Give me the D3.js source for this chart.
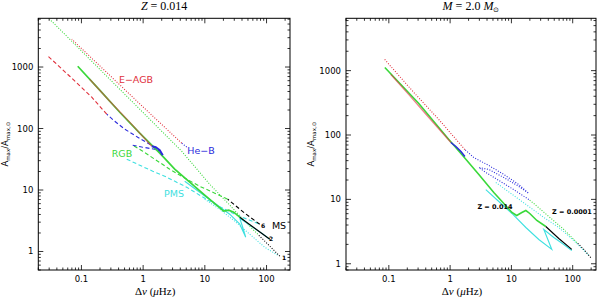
<!DOCTYPE html>
<html><head><meta charset="utf-8">
<script src="https://cdn.jsdelivr.net/npm/d3@7"></script>
<style>html,body{margin:0;padding:0;background:#fff}svg{display:block}</style>
</head><body>
<svg id="c" width="600" height="297"></svg>
<script>
// ---------- data: [Δν (μHz), Amax/Amax,sun] ----------
// Left panel: Z = 0.014, masses 1 (dotted), 2 (solid), 6 (dashed) Msun
const m6_pms  = [[0.542,31.7],[0.881,25.3],[1.43,20.2],[2.24,16.8],[3.02,14.4],[5.09,11.1],[8.26,8.23],[14.5,5.88],[30.5,4.04],[53.4,3.23],[77.6,2.78]];
const m6_ms   = [[77.6,2.78],[44.3,4.2],[23.5,7.08]];
const m6_rgb  = [[23.5,7.08],[14.5,8.87],[8.26,11.5],[4.72,15.6],[2.70,21.8],[1.54,31.7],[0.985,42.7],[0.678,53.5]];
const m6_heb  = [[0.678,53.5],[0.95,50],[1.54,46],[1.86,42.7],[1.28,55.6],[0.817,72.2],[0.504,97.5],[0.347,131],[0.257,171]];
const m6_eagb = [[0.257,171],[0.147,323],[0.0646,708],[0.0288,1500]];

const m2_pms  = [[4.72,13.9],[8.26,9.21],[14.5,6.1],[25.3,4.04],[36.8,2.78],[46.0,1.71],[41.1,2.48],[36.8,3.48],[53.4,2.68],[83.6,1.98],[113,1.58]];
const m2_ms   = [[113,1.58],[64.4,2.39],[36.8,3.61]];
const m2_rgb  = [[36.8,3.61],[29.4,4.36],[24.4,4.7],[20.2,4.53],[16.2,5.45],[9.95,8.23],[5.69,13.4],[3.25,21.8],[1.86,39.7],[0.881,83.9],[0.418,184],[0.198,420],[0.0871,1030]];
const m2_heb  = [[2.08,36.8],[1.86,44.4],[1.6,49.7],[1.38,51.5]];
const m2_eagb = [[1.38,51.5],[0.606,127],[0.288,278],[0.136,634]];

const m1_pms  = [[9.95,7.08],[17.4,4.87],[30.5,3.11],[53.4,1.91],[93.5,1.17],[152,0.87]];
const m1_ms   = [[164,0.839],[113,1.22],[72.0,1.91]];
const m1_rgb  = [[72.0,1.91],[44.3,3.11],[27.3,5.25],[12.0,12.4],[4.22,42.7],[0.881,206],[0.198,921],[0.0306,5990]];
const m1_heb  = [[5.09,50],[4.6,54],[4.22,57.7]];
const m1_eagb = [[4.22,57.7],[0.881,252],[0.198,1047],[0.0697,2830]];

// Right panel: M = 2.0 Msun, Z = 0.014 (solid), Z = 0.0001 (dotted)
const z014_pms  = [[3.82,14.2],[6.23,9.28],[10.2,6.04],[17.2,3.66],[28.0,2.38],[45.6,1.67],[39.3,2.38],[33.8,3.41],[49.2,2.56],[71.6,1.99],[96.6,1.61]];
const z014_ms   = [[96.6,1.67],[59.3,2.47],[36.4,3.79]];
const z014_rgb  = [[36.4,3.79],[26.0,4.7],[19.95,6.04],[17.2,6.72],[14.8,6.26],[12.2,5.62],[10.2,6.26],[7.52,8.63],[5.16,12.8],[2.94,24.4],[1.55,49.8],[0.952,85.1],[0.308,308],[0.086,1117]];
const z014_heb  = [[1.74,46.4],[1.50,55.4],[1.24,66.3],[1.03,76.5]];
const z014_eagb = [[1.03,76.5],[0.449,187],[0.212,425],[0.108,869]];

const z0001_pms  = [[5.57,18.3],[10.9,11.5],[19.2,7.76],[33.8,5.24],[59.3,3.66],[104,2.3],[183,1.35]];
const z0001_ms   = [[197,1.25],[152,1.67],[117,2.14]];
const z0001_rgb  = [[117,2.14],[71.6,3.41],[40.7,5.43],[23.2,8.63],[19.2,9.96]];
const z0001_heb  = [[19.2,9.96],[10.9,14.2],[6.23,19.7],[3.82,26.2],[2.94,31.3],[4.28,29.1],[7.52,21.9],[13.2,15.9],[19.2,12.4],[13.2,17.0],[7.52,24.4],[4.28,33.6],[2.44,44.7],[1.74,59.5]];
const z0001_eagb = [[1.74,59.5],[0.655,174],[0.256,457],[0.083,1542]];

const xTickLabels = ["0.1","1","10","100"];
const yTickLabels = ["1","10","100","1000"];

// ---------- drawing ----------
const COL = {pms:"#3fe0e0", ms:"#000000", rgb:"#3ad83a", heb:"#2b2bdc", eagb:"#e0303c"};
const DASH = {dotted:"1,1.6", solid:null, dashed:"4,2.5"};

const svg = d3.select("#c");

function panel(o){
  const x = d3.scaleLog().domain(o.xd).range([o.x0,o.x1]);
  const y = d3.scaleLog().domain(o.yd).range([o.y1,o.y0]);
  const g = svg.append("g");
  const line = d3.line().x(d=>x(d[0])).y(d=>y(d[1]));
  o.tracks.forEach(t=>{
    g.append("path").attr("d",line(t.data)).attr("fill","none")
      .attr("stroke",COL[t.phase]).attr("stroke-width",t.w||1.1)
      .attr("stroke-opacity",t.op||1)
      .attr("stroke-dasharray",DASH[t.style]);
  });
  g.append("rect").attr("x",o.x0).attr("y",o.y0).attr("width",o.x1-o.x0).attr("height",o.y1-o.y0)
    .attr("fill","none").attr("stroke","#000").attr("stroke-width",1);
  function minors(dom){
    const out=[]; for(let e=-3;e<5;e++){for(let k=1;k<10;k++){const v=k*Math.pow(10,e); if(v>=dom[0]*0.999&&v<=dom[1]*1.001) out.push([v,k===1]);}} return out;
  }
  minors(o.xd).forEach(([v,maj])=>{
    const L = maj?5:2.5, px=x(v);
    g.append("line").attr("x1",px).attr("x2",px).attr("y1",o.y1).attr("y2",o.y1-L).attr("stroke","#000").attr("stroke-width",0.8);
    g.append("line").attr("x1",px).attr("x2",px).attr("y1",o.y0).attr("y2",o.y0+L).attr("stroke","#000").attr("stroke-width",0.8);
  });
  minors(o.yd).forEach(([v,maj])=>{
    const L = maj?5:2.5, py=y(v);
    g.append("line").attr("x1",o.x0).attr("x2",o.x0+L).attr("y1",py).attr("y2",py).attr("stroke","#000").attr("stroke-width",0.8);
    g.append("line").attr("x1",o.x1).attr("x2",o.x1-L).attr("y1",py).attr("y2",py).attr("stroke","#000").attr("stroke-width",0.8);
  });
  const tf = "'DejaVu Sans', sans-serif";
  xTickLabels.forEach(s=>{
    g.append("text").attr("x",x(+s)).attr("y",o.y1+11.5).attr("text-anchor","middle")
      .attr("font-family",tf).attr("font-size",8.5).text(s);
  });
  yTickLabels.forEach(s=>{
    g.append("text").attr("x",o.x0-5).attr("y",y(+s)+3).attr("text-anchor","end")
      .attr("font-family",tf).attr("font-size",8.5).text(s);
  });
  const xl = g.append("text").attr("x",(o.x0+o.x1)/2-9).attr("y",295).attr("text-anchor","middle")
    .attr("font-family","'Liberation Serif', serif").attr("font-size",11);
  xl.append("tspan").text("Δ");
  xl.append("tspan").attr("font-style","italic").text("ν");
  xl.append("tspan").text(" (");
  xl.append("tspan").attr("font-style","italic").text("μ");
  xl.append("tspan").text("Hz)");
  const yl = g.append("text").attr("transform",`translate(${o.ylx},${(o.y0+o.y1)/2}) rotate(-90)`)
    .attr("text-anchor","middle").attr("font-family",tf).attr("font-size",8.5);
  yl.append("tspan").text("A");
  yl.append("tspan").attr("font-size",5.5).attr("dy",2).text("max");
  yl.append("tspan").attr("dy",-2).text("/A");
  yl.append("tspan").attr("font-size",5.5).attr("dy",2).text("max,⊙");
  const t = g.append("text").attr("x",(o.x0+o.x1)/2).attr("y",10).attr("text-anchor","middle")
    .attr("font-family","'Liberation Serif', serif").attr("font-size",12);
  o.title(t);
  o.notes.forEach(n=>{
    g.append("text").attr("x",n.x).attr("y",n.y).attr("text-anchor","middle")
      .attr("font-family",tf).attr("font-size",n.fs).attr("font-weight",n.fw||"normal")
      .attr("fill",n.c).text(n.t);
  });
  return {x,y};
}

panel({
  x0:38.3, x1:290, y0:18.3, y1:270, xd:[0.02,240], yd:[0.5,6200], ylx:8,
  tracks:[
    {data:m1_rgb,phase:"rgb",style:"dotted"},
    {data:m1_eagb,phase:"eagb",style:"dotted"},
    {data:m1_heb,phase:"heb",style:"dotted"},
    {data:m1_pms,phase:"pms",style:"dotted"},
    {data:m1_ms,phase:"ms",style:"dotted"},
    {data:m6_pms,phase:"pms",style:"dashed"},
    {data:m6_rgb,phase:"rgb",style:"dashed"},
    {data:m6_heb,phase:"heb",style:"dashed"},
    {data:m6_eagb,phase:"eagb",style:"dashed"},
    {data:m6_ms,phase:"ms",style:"dashed"},
    {data:m2_pms,phase:"pms",style:"solid"},
    {data:m2_rgb,phase:"rgb",style:"solid",w:1.7},
    {data:m2_eagb,phase:"eagb",style:"solid",w:1.3,op:0.6},
    {data:m2_heb,phase:"heb",style:"solid",w:2},
    {data:m2_ms,phase:"ms",style:"solid"}
  ],
  title:t=>{t.append("tspan").attr("font-style","italic").text("Z"); t.append("tspan").text(" = 0.014");},
  notes:[
    {x:136,y:83,t:"E−AGB",c:COL.eagb,fs:9.5},
    {x:201,y:154,t:"He−B",c:COL.heb,fs:9.5},
    {x:122,y:157,t:"RGB",c:COL.rgb,fs:9.5},
    {x:174,y:197,t:"PMS",c:COL.pms,fs:9.5},
    {x:279,y:229,t:"MS",c:"#000",fs:9.5},
    {x:263,y:228,t:"6",c:"#000",fs:6,fw:"bold"},
    {x:271,y:241,t:"2",c:"#000",fs:6,fw:"bold"},
    {x:284,y:260,t:"1",c:"#000",fs:6,fw:"bold"}
  ]
});

panel({
  x0:346, x1:596, y0:18.3, y1:270, xd:[0.02,240], yd:[0.8,6500], ylx:314,
  tracks:[
    {data:z0001_pms,phase:"pms",style:"dotted"},
    {data:z0001_rgb,phase:"rgb",style:"dotted"},
    {data:z0001_heb,phase:"heb",style:"dotted"},
    {data:z0001_eagb,phase:"eagb",style:"dotted"},
    {data:z0001_ms,phase:"ms",style:"dotted"},
    {data:z014_pms,phase:"pms",style:"solid"},
    {data:z014_rgb,phase:"rgb",style:"solid",w:1.6},
    {data:z014_eagb,phase:"eagb",style:"solid",w:1.3,op:0.6},
    {data:z014_heb,phase:"heb",style:"solid",w:1.6},
    {data:z014_ms,phase:"ms",style:"solid"}
  ],
  title:t=>{t.append("tspan").attr("font-style","italic").text("M");
    t.append("tspan").text(" = 2.0 ");
    t.append("tspan").attr("font-style","italic").text("M");
    t.append("tspan").attr("font-size",7).attr("dy",2).text("⊙");},
  notes:[
    {x:495,y:209,t:"Z = 0.014",c:"#000",fs:6.5,fw:"bold"},
    {x:572,y:214,t:"Z = 0.0001",c:"#000",fs:6.5,fw:"bold"}
  ]
});
</script>
</body></html>
